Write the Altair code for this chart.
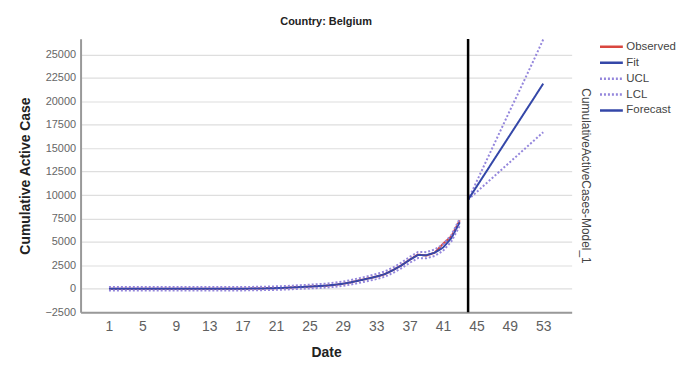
import altair as alt
import pandas as pd

# ---- data ----
hist_days = list(range(1, 44))
observed = [0, 0, 0, 0, 0, 0, 0, 0, 0, 0, 0, 0, 1, 1, 2, 5, 10, 20, 30, 50,
            70, 100, 150, 190, 240, 280, 330, 420, 530, 700, 900, 1100, 1300,
            1550, 2000, 2500, 3100, 3650, 3550, 3850, 4800, 5600, 7300]
fit = [0, 0, 0, 0, 0, 0, 0, 0, 0, 0, 0, 0, 1, 2, 4, 7, 12, 22, 34, 52,
       75, 105, 150, 195, 240, 285, 340, 430, 540, 700, 890, 1090, 1300,
       1560, 1980, 2480, 3080, 3600, 3580, 3850, 4400, 5400, 7100]
ucl_hist = [180, 180, 180, 180, 180, 180, 180, 180, 180, 180, 180, 180, 180,
            185, 190, 190, 195, 205, 215, 235, 260, 290, 340, 390, 440, 490,
            550, 650, 770, 940, 1140, 1350, 1570, 1840, 2270, 2780, 3390,
            3920, 3910, 4190, 4750, 5760, 7470]
lcl_hist = [-180, -180, -180, -180, -180, -180, -180, -180, -180, -180, -180,
            -180, -180, -180, -180, -175, -170, -160, -150, -130, -110, -80,
            -40, 0, 40, 80, 130, 210, 310, 460, 640, 830, 1030, 1280, 1690,
            2180, 2770, 3280, 3250, 3510, 4050, 5040, 6730]

fc_days = [44, 45, 46, 47, 48, 49, 50, 51, 52, 53]
forecast = [9500, 10870, 12250, 13630, 15000, 16380, 17750, 19130, 20500, 21880]
ucl_fc = [9500, 11400, 13300, 15200, 17100, 19000, 20850, 22750, 24650, 26600]
lcl_fc = [9500, 10300, 11100, 11900, 12700, 13500, 14300, 15100, 15900, 16700]

origin_day = [44]
series_order = ["Observed", "Fit", "UCL", "LCL", "Forecast"]
series_colors = ["#d9463f", "#3447a8", "#9486dc", "#9486dc", "#3447a8"]
series_dash = [[1, 0], [1, 0], [2, 2], [2, 2], [1, 0]]
x_ticks = [1, 5, 9, 13, 17, 21, 25, 29, 33, 37, 41, 45, 49, 53]
y_ticks = [-2500, 0, 2500, 5000, 7500, 10000, 12500, 15000, 17500, 20000,
           22500, 25000]

rows = []
def add(name, seg, days, vals):
    for d, v in zip(days, vals):
        rows.append({"date": d, "value": v, "series": name, "seg": seg})

add("Observed", "h", hist_days, observed)
add("Fit", "h", hist_days, fit)
add("UCL", "h", hist_days, ucl_hist)
add("LCL", "h", hist_days, lcl_hist)
add("UCL", "f", fc_days, ucl_fc)
add("LCL", "f", fc_days, lcl_fc)
add("Forecast", "f", fc_days, forecast)
df = pd.DataFrame(rows)

FONT = "Liberation Sans"
xscale = alt.Scale(domain=[-2.4, 56.4], nice=False, zero=False)
yscale = alt.Scale(domain=[-2500, 26650], nice=False, zero=False)

x_axis = alt.Axis(values=x_ticks, title="Date", grid=False, ticks=False,
                  labelOverlap=False, labelFlush=False, labelBound=False,
                  labelFontSize=14, labelColor="#606060", labelPadding=7,
                  domainColor="#999", domainWidth=2,
                  titleFontSize=14, titleFontWeight="bold",
                  titleColor="#222", titlePadding=13)

leg = dict(title=None, orient="none", legendX=521, legendY=0,
           symbolType="stroke", symbolSize=529, symbolStrokeWidth=2.5,
           labelFontSize=11.5, labelColor="#444", labelFont=FONT,
           rowPadding=0, clipHeight=16, labelOffset=2, padding=0)

lines = alt.Chart(df).mark_line(strokeWidth=2).encode(
    x=alt.X("date:Q", scale=xscale, axis=x_axis, title="Date"),
    y=alt.Y("value:Q", scale=yscale,
            axis=alt.Axis(values=y_ticks, title="Cumulative Active Case",
                          format="d", labelOverlap=False,
                          grid=True, gridColor="#dedede", gridWidth=1.2,
                          ticks=False, labelFontSize=11, labelColor="#666",
                          labelPadding=5, domainColor="#999", domainWidth=2,
                          titleFontSize=14, titleFontWeight="bold",
                          titleColor="#222", titlePadding=12)),
    color=alt.Color("series:N",
                    scale=alt.Scale(domain=series_order, range=series_colors),
                    legend=alt.Legend(**leg)),
    strokeDash=alt.StrokeDash("series:N",
                              scale=alt.Scale(domain=series_order,
                                              range=series_dash),
                              legend=alt.Legend(**leg)),
    detail="seg:N",
    order="date:Q",
)

rule = alt.Chart(pd.DataFrame({"date": origin_day})).mark_rule(
    color="black", strokeWidth=2.5).encode(
    x=alt.X("date:Q", scale=xscale, axis=x_axis, title="Date"))

right = alt.Chart(df).mark_line(opacity=0).encode(
    x=alt.X("date:Q", scale=xscale, axis=x_axis, title="Date"),
    y=alt.Y("value:Q", scale=yscale,
            axis=alt.Axis(orient="right", title="CumulativeActiveCases-Model_1",
                          labels=False, ticks=False, domain=False, grid=False,
                          titleFontSize=12, titleFontWeight="normal",
                          titleColor="#444", titlePadding=7)),
    detail="seg:N",
    order="date:Q",
)

chart = alt.layer(lines, rule, right).resolve_axis(y="independent").properties(
    width=494, height=275,
    autosize=alt.AutoSizeParams(type="none"),
    padding={"left": 73, "top": 30, "right": 110, "bottom": 52},
    title=alt.TitleParams("Country: Belgium", fontSize=11, fontWeight="bold",
                          font=FONT, anchor="middle", offset=8, color="#222"),
).configure(font=FONT).configure_view(stroke=None).configure_axis(
    labelFont=FONT, titleFont=FONT).configure_axisX(labelOverlap=False)

chart.save("out.html", embed_options={"renderer": "svg", "actions": False})
